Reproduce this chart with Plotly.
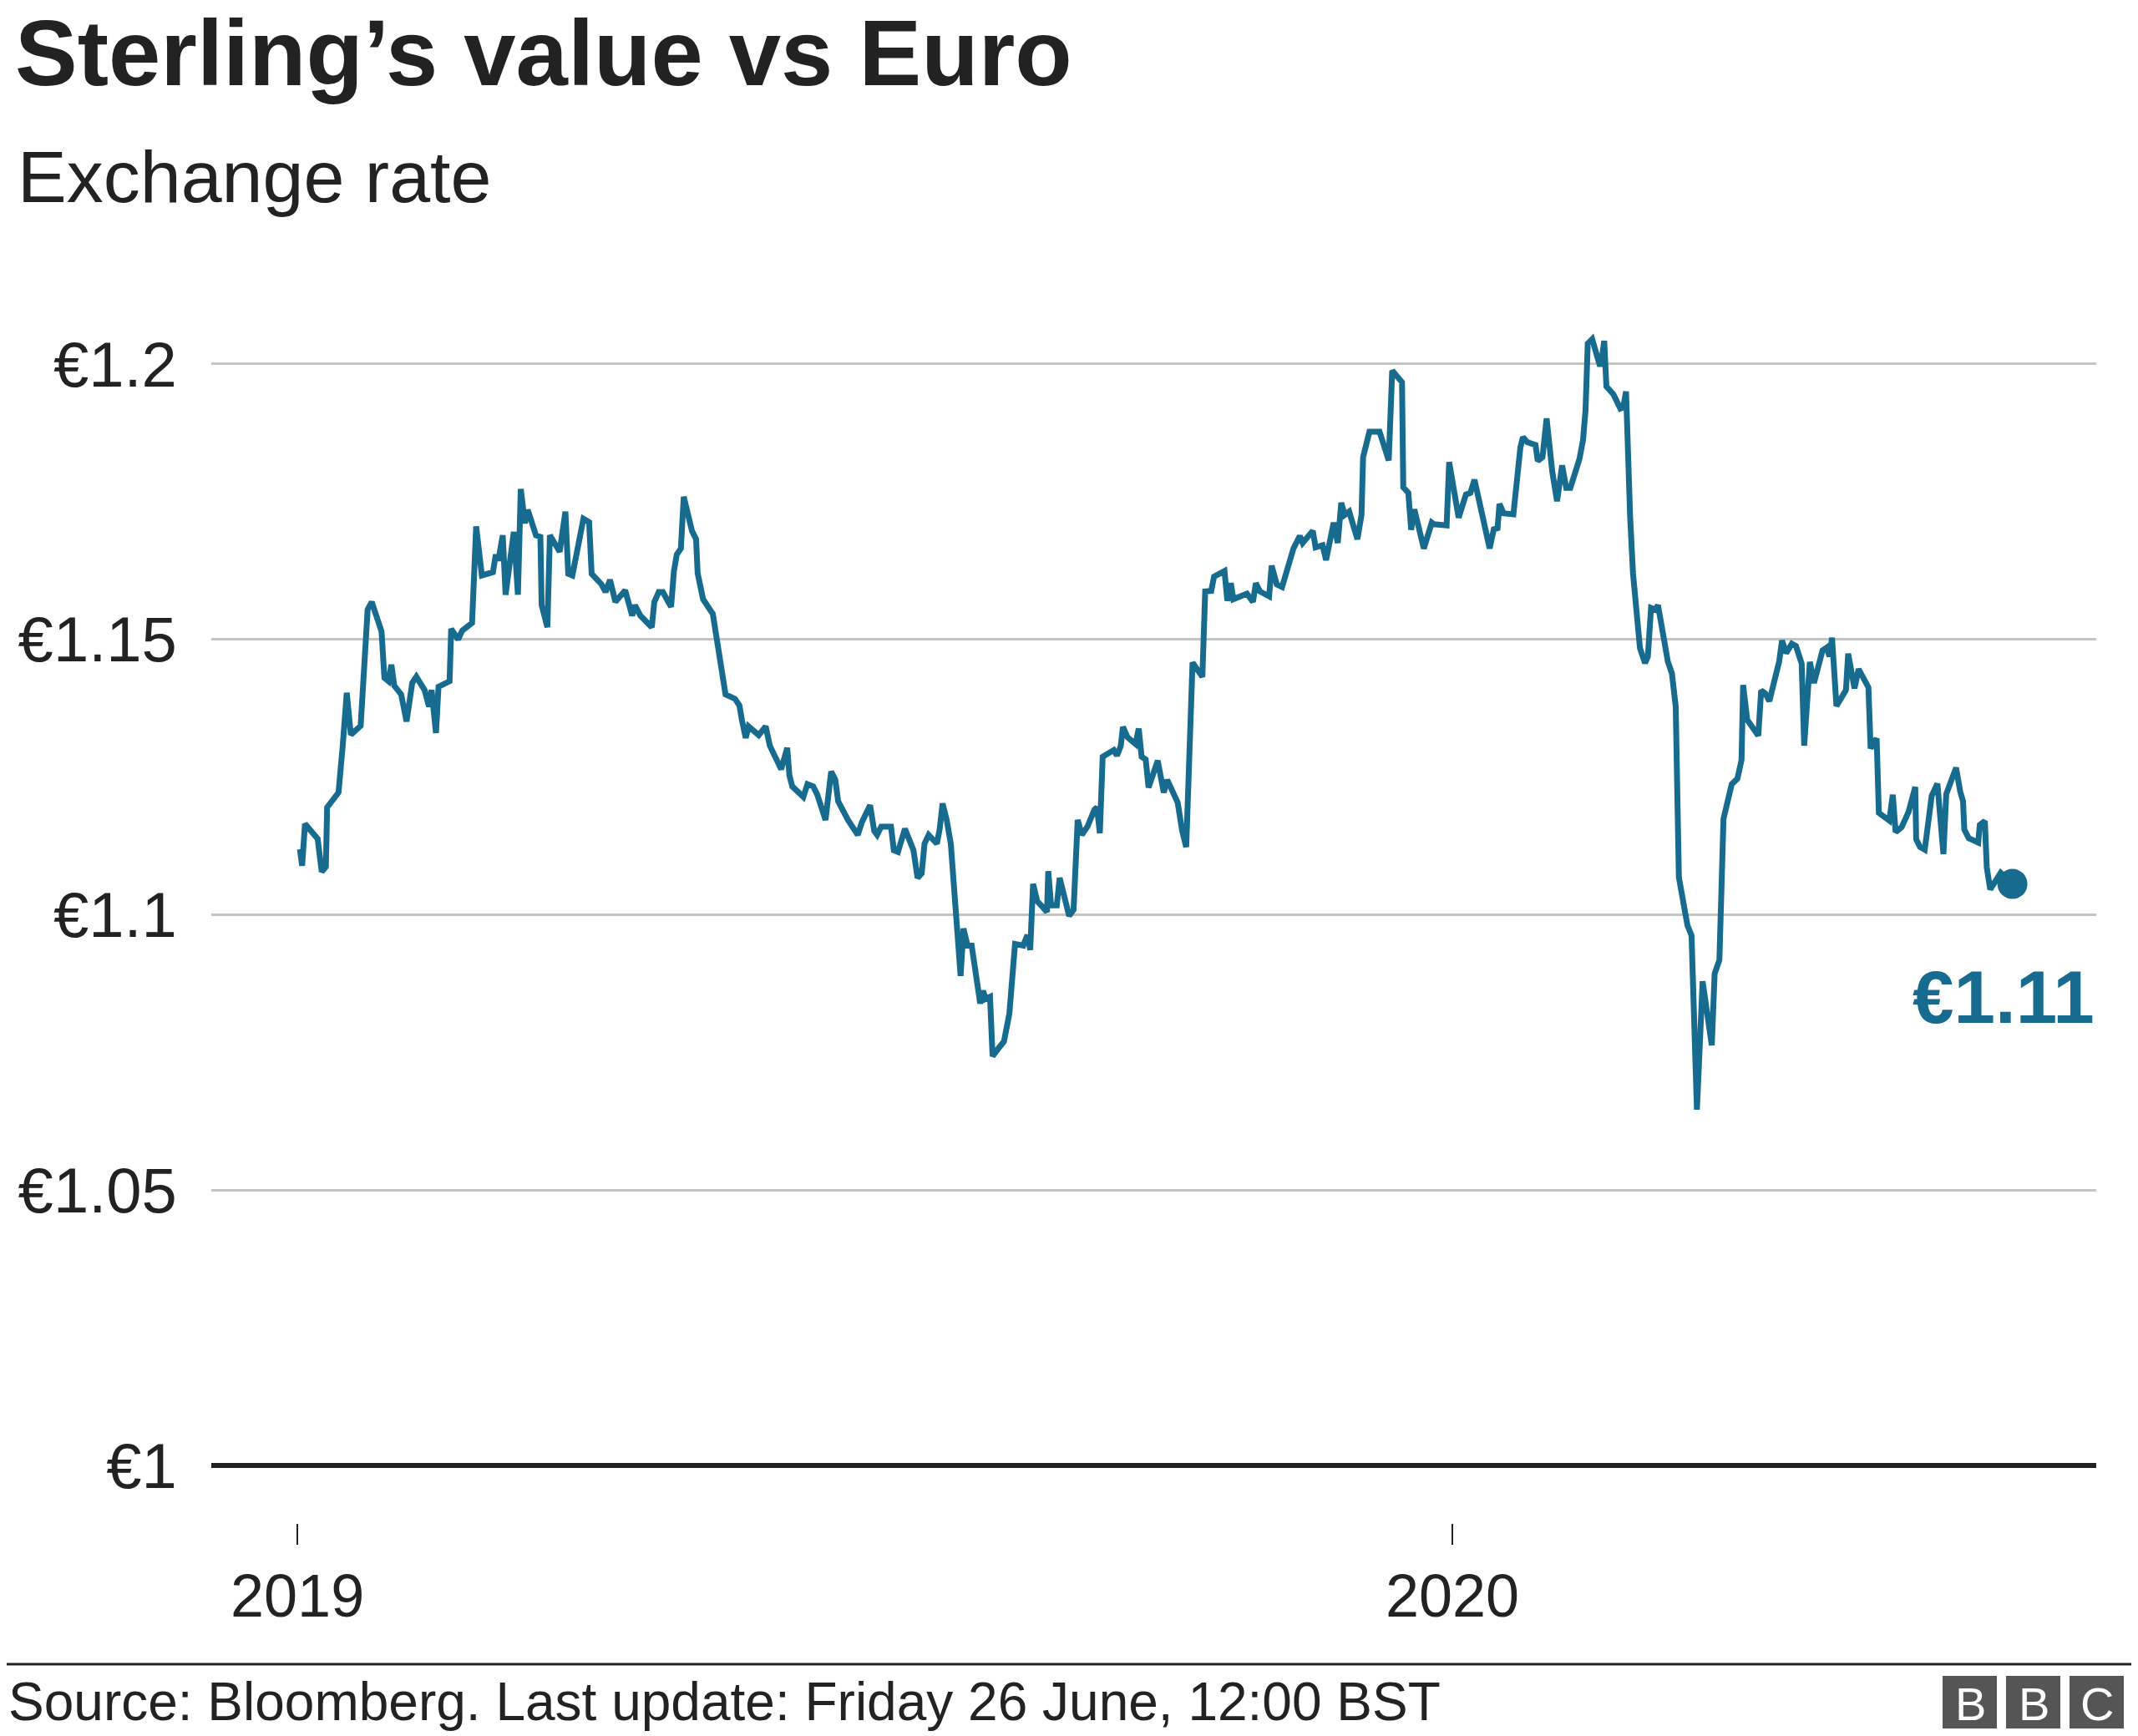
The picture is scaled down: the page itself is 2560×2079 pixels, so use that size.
import pandas as pd
import plotly.graph_objects as go

# ---- data ----
# days since 1 Jan 2019
day_offsets = [
    0.8, 1.5, 2.4, 6.4, 7.7, 9.0, 9.4, 13.0, 14.3, 15.6, 16.9, 20.0, 22.2, 23.5, 26.6, 27.5,
    28.8, 29.7, 30.6, 32.8, 34.5, 36.3, 37.6, 40.2, 41.6, 42.4, 43.8, 44.6, 48.1, 48.6, 50.8,
    52.1, 55.2, 56.5, 58.3, 61.8, 62.7, 63.5, 64.9, 65.8, 68.4, 69.7, 70.6, 71.9, 72.8, 75.4,
    76.8, 77.2, 79.0, 79.8, 82.9, 84.7, 85.6, 86.9, 90.4, 92.2, 93.0, 96.1, 97.4, 98.8, 100.5,
    103.6, 105.8, 106.7, 108.4, 112.0, 112.8, 114.2, 115.5, 118.1, 119.0, 119.9, 121.2, 122.1,
    124.7, 126.0, 126.5, 128.2, 131.3, 132.2, 133.1, 134.0, 135.3, 138.3, 139.7, 140.5, 141.7,
    142.6, 145.8, 148.0, 149.3, 152.9, 154.8, 155.5, 156.4, 159.9, 161.2, 163.0, 164.3, 166.9,
    168.7, 170.0, 170.9, 174.0, 175.3, 177.1, 178.4, 181.0, 182.3, 183.2, 184.5, 187.6, 188.5,
    189.8, 192.0, 194.7, 196.0, 197.3, 198.2, 199.5, 202.1, 203.0, 203.9, 205.2, 206.5, 208.3,
    209.6, 210.5, 211.8, 213.1, 215.8, 216.7, 217.5, 218.9, 219.7, 221.1, 223.3, 225.0, 225.9,
    226.8, 229.4, 230.7, 231.6, 232.5, 233.8, 236.9, 237.3, 238.2, 240.0, 240.9, 243.9, 245.3,
    246.6, 247.9, 249.7, 251.9, 252.7, 253.6, 254.5,
    258.0, 259.0, 260.2, 260.9, 262.4, 264.9, 265.9, 266.8, 268.1, 269.0, 271.9, 273.8, 274.9,
    278.2, 279.6, 280.9, 282.9, 286.0, 286.9, 288.8, 289.7, 293.0, 293.9, 295.0, 295.8, 300.1,
    302.0, 302.9, 304.2, 307.1, 307.9, 309.5, 311.2, 314.8, 316.8, 317.7, 320.9, 321.8, 324.0,
    325.1, 327.5, 328.8, 329.9, 331.0, 332.4, 335.0, 336.3, 336.8, 337.6, 338.8, 342.0, 342.9,
    343.5, 344.9, 346.0, 349.1, 349.5, 351.1, 352.0, 353.0, 356.0, 358.5, 359.2, 363.2, 364.0,
    367.0, 369.3, 370.7, 372.0, 373.3, 376.8, 378.1, 379.3, 379.9, 381.2,
    384.3, 385.1, 386.5, 387.3, 388.7, 391.3, 392.0, 393.5, 394.8, 396.6, 398.1, 399.7, 401.0,
    402.3, 404.1, 405.2, 406.3, 407.1, 407.8, 409.2, 411.5, 412.0, 413.0, 413.7, 415.9, 418.1,
    419.0, 419.9, 421.2, 422.1, 424.3, 425.9, 426.8, 427.8, 429.1, 430.0, 431.8, 433.1, 434.4,
    435.6, 436.6, 437.9, 439.3, 440.6, 442.3, 444.1, 447.0, 447.9, 449.4, 450.7, 453.3, 455.1,
    456.4, 456.9, 458.2, 461.7, 462.6, 463.9, 465.2, 468.3, 469.2, 470.5, 472.3,
    473.6, 475.4, 476.2, 478.0, 479.3, 482.0, 483.3, 484.2, 485.0, 486.4, 489.4, 490.1, 492.1,
    493.4, 496.5, 497.2, 499.1, 499.8, 503.1, 504.2, 505.1, 507.0, 509.2, 511.3, 511.6, 512.8,
    514.3, 516.5, 518.3, 520.2, 521.1, 524.2, 525.5, 526.4, 526.8, 528.2, 531.2, 531.7, 533.3,
    533.9, 535.0, 538.3, 542.0,
]
rate = [
    1.1119, 1.1089, 1.1165, 1.1138, 1.1078, 1.1087, 1.1195, 1.1222, 1.1305, 1.1403, 1.1327,
    1.1343, 1.1554, 1.1568, 1.1514, 1.1430, 1.1424, 1.1454, 1.1416, 1.1400, 1.1351, 1.1421,
    1.1432, 1.1408, 1.1378, 1.1408, 1.1330, 1.1414, 1.1424, 1.1519, 1.1500, 1.1516, 1.1530,
    1.1705, 1.1616, 1.1622, 1.1654, 1.1643, 1.1689, 1.1581, 1.1695, 1.1581, 1.1773, 1.1711,
    1.1735, 1.1689, 1.1686, 1.1562, 1.1522, 1.1689, 1.1659, 1.1732, 1.1619, 1.1616, 1.1719,
    1.1713, 1.1619, 1.1600, 1.1586, 1.1608, 1.1568, 1.1589, 1.1543, 1.1562, 1.1543, 1.1522,
    1.1568, 1.1586, 1.1586, 1.1559, 1.1624, 1.1654, 1.1665, 1.1759,
    1.1697, 1.1682, 1.1620, 1.1573, 1.1546, 1.1515, 1.1469, 1.1450, 1.1400, 1.1392, 1.1380,
    1.1353, 1.1321, 1.1342, 1.1326, 1.1342, 1.1307, 1.1264, 1.1303, 1.1253, 1.1233, 1.1214,
    1.1237, 1.1233, 1.1218, 1.1172, 1.1260, 1.1245, 1.1206, 1.1172, 1.1160, 1.1145, 1.1168,
    1.1199, 1.1152, 1.1145, 1.1160, 1.1160, 1.1117, 1.1114, 1.1156, 1.1117, 1.1067, 1.1075,
    1.1129, 1.1145, 1.1129, 1.1156, 1.1202, 1.1172, 1.1129, 1.0990, 1.0889, 1.0975, 1.0944,
    1.0944, 1.0839, 1.0862, 1.0847, 1.0851, 1.0743, 1.0754, 1.0770, 1.0820, 1.0874, 1.0947,
    1.0944, 1.0963, 1.0936, 1.1056, 1.1025, 1.1005, 1.1079, 1.1017, 1.1017, 1.1067, 1.0998,
    1.1009, 1.1172, 1.1145, 1.1160, 1.1191, 1.1195, 1.1148, 1.1287,
    1.1299, 1.1289, 1.1306, 1.1341, 1.1322, 1.1310, 1.1338, 1.1287, 1.1282, 1.1231, 1.1280,
    1.1222, 1.1245, 1.1204, 1.1153, 1.1123, 1.1458, 1.1432, 1.1587, 1.1588, 1.1614, 1.1624,
    1.1570, 1.1602, 1.1573, 1.1583, 1.1568, 1.1602, 1.1587, 1.1578, 1.1634, 1.1600, 1.1595,
    1.1665, 1.1688, 1.1675, 1.1697, 1.1667, 1.1671, 1.1644, 1.1712, 1.1675, 1.1748, 1.1726,
    1.1732, 1.1682, 1.1726, 1.1831, 1.1848, 1.1877, 1.1877, 1.1861, 1.1854, 1.1825, 1.1988,
    1.1967, 1.1776, 1.1766, 1.1699, 1.1736, 1.1665, 1.1712, 1.1709, 1.1707, 1.1822, 1.1721,
    1.1763, 1.1766, 1.1790, 1.1756, 1.1665, 1.1700, 1.1702, 1.1746, 1.1729,
    1.1727, 1.1775, 1.1848, 1.1867, 1.1858, 1.1853, 1.1824, 1.1831, 1.1901, 1.1804, 1.1751,
    1.1816, 1.1775, 1.1775, 1.1804, 1.1828, 1.1862, 1.1916, 1.2037, 1.2045, 1.2000, 1.2000,
    1.2042, 1.1959, 1.1945, 1.1919, 1.1921, 1.1950, 1.1722, 1.1620, 1.1484, 1.1457, 1.1469,
    1.1557, 1.1554, 1.1562, 1.1503, 1.1460, 1.1438, 1.1378, 1.1068, 1.1029, 1.0981, 1.0962,
    1.0646, 1.0879, 1.0763, 1.0893, 1.0918, 1.1174, 1.1237, 1.1247, 1.1281, 1.1417, 1.1354,
    1.1325, 1.1407, 1.1402, 1.1388, 1.1460, 1.1498, 1.1475, 1.1492,
    1.1488, 1.1456, 1.1307, 1.1459, 1.1421, 1.1480, 1.1485, 1.1469, 1.1503, 1.1379, 1.1408,
    1.1474, 1.1411, 1.1446, 1.1413, 1.1302, 1.1320, 1.1185, 1.1171, 1.1218, 1.1150, 1.1159,
    1.1187, 1.1232, 1.1137, 1.1123, 1.1118, 1.1216, 1.1238, 1.1110, 1.1219, 1.1267, 1.1224,
    1.1206, 1.1155, 1.1139, 1.1131, 1.1163, 1.1170, 1.1086, 1.1046, 1.1076, 1.1056,
]
start_date = "2019-01-01"
y_tick_values = [1.0, 1.05, 1.1, 1.15, 1.2]
y_tick_labels = ["€1", "€1.05", "€1.1", "€1.15", "€1.2"]
x_tick_values = ["2019-01-01", "2020-01-01"]
x_tick_labels = ["2019", "2020"]

title = "Sterling’s value vs Euro"
subtitle = "Exchange rate"
source = "Source: Bloomberg. Last update: Friday 26 June, 12:00 BST"
logo_letters = ["B", "B", "C"]

dates = pd.Timestamp(start_date) + pd.to_timedelta(day_offsets, unit="D")

# ---- styling / layout ----
OFF = 8                       # page body margin of the html page
W, H = 2560 - OFF, 2079 - OFF
L, R, T, B = 245, 50, 296, 255
PW, PH = W - L - R, H - T - B
LINE = "#176b8e"
DARK = "#222222"
FONT = "Liberation Sans, Arial, Helvetica, sans-serif"


def px(x):
    """page x pixel -> paper coordinate"""
    return (x - OFF - L) / PW


def py(y):
    """page y pixel -> paper coordinate"""
    return (H - B - (y - OFF)) / PH


fig = go.Figure()
fig.add_trace(go.Scatter(x=dates, y=rate, mode="lines",
                         line=dict(color=LINE, width=7), hoverinfo="skip"))
fig.add_trace(go.Scatter(x=[dates[-1]], y=[rate[-1]], mode="markers",
                         marker=dict(color=LINE, size=36), hoverinfo="skip"))

shapes = [
    dict(type="line", xref="paper", yref="y", x0=0, x1=1, y0=1.0, y1=1.0,
         line=dict(color=DARK, width=6)),
    dict(type="line", xref="paper", yref="paper", x0=px(0), x1=px(2560), y0=py(1993), y1=py(1993),
         line=dict(color=DARK, width=3)),
]
annotations = [
    dict(text=f"<b>{title}</b>", xref="paper", yref="paper", x=px(16), y=py(64),
         xanchor="left", yanchor="middle", showarrow=False,
         font=dict(family=FONT, size=112, color=DARK)),
    dict(text=subtitle, xref="paper", yref="paper", x=px(19), y=py(212),
         xanchor="left", yanchor="middle", showarrow=False,
         font=dict(family=FONT, size=88, color=DARK)),
    dict(text=source, xref="paper", yref="paper", x=px(8), y=py(2038),
         xanchor="left", yanchor="middle", showarrow=False,
         font=dict(family=FONT, size=64, color=DARK)),
    dict(text=f"<b>€{rate[-1]:.2f}</b>", xref="paper", yref="y", x=1, y=1.085,
         xanchor="right", yanchor="middle", showarrow=False,
         font=dict(family=FONT, size=89, color=LINE)),
]
for i, letter in enumerate(logo_letters):
    x0 = 2326 + i * 76
    shapes.append(dict(type="rect", xref="paper", yref="paper", x0=px(x0), x1=px(x0 + 65),
                       y0=py(2070), y1=py(2007), fillcolor="#555555", line=dict(width=0)))
    annotations.append(dict(text=letter, xref="paper", yref="paper",
                            x=px(x0 + 33), y=py(2040), xanchor="center", yanchor="middle",
                            showarrow=False, font=dict(family=FONT, size=56, color="white")))

fig.update_layout(
    width=W, height=H,
    margin=dict(l=L, r=R, t=T, b=B, pad=0),
    paper_bgcolor="white", plot_bgcolor="white",
    showlegend=False,
    shapes=shapes, annotations=annotations,
    xaxis=dict(type="date", range=["2018-12-04 19:00", "2020-07-22 12:00"],
               tickvals=x_tick_values, ticktext=x_tick_labels,
               ticks="outside", ticklen=25, tickwidth=2, tickcolor=DARK,
               showgrid=False, showline=False, zeroline=False,
               tickfont=dict(family=FONT, size=72, color=DARK)),
    yaxis=dict(range=[0.98954, 1.22], tickvals=y_tick_values, ticktext=y_tick_labels,
               ticks="outside", ticklen=25, tickcolor="rgba(0,0,0,0)",
               showgrid=True, gridcolor="#c4c4c4", gridwidth=3,
               showline=False, zeroline=False,
               tickfont=dict(family=FONT, size=76, color=DARK)),
)

fig.write_html("out.html")
